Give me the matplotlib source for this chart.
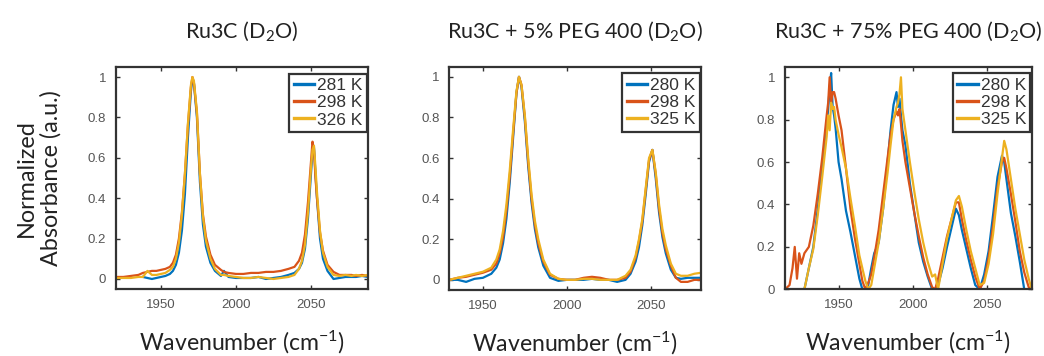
import numpy as np
import matplotlib
matplotlib.use('Agg')
import matplotlib.pyplot as plt

plt.rcParams['font.family'] = ['Lato', 'DejaVu Sans']
plt.rcParams['mathtext.default'] = 'regular'

# MATLAB default colours
colors = ['#0072BD', '#D95319', '#EDB120']

# panel 1: Ru3C (D2O)
wn1 = [1920, 1925, 1930, 1935, 1938, 1941, 1944, 1947, 1950, 1953, 1956, 1958, 1960, 1962, 1964,
       1966, 1968, 1970, 1971, 1972, 1974, 1976, 1978, 1980, 1983, 1986, 1990, 1992, 1995, 2000,
       2005, 2010, 2015, 2020, 2025, 2030, 2035, 2039, 2042, 2044, 2046, 2048, 2050, 2051, 2052,
       2053, 2054, 2056, 2058, 2061, 2065, 2069, 2073, 2077, 2080, 2084, 2088]
p1_281 = [np.nan, np.nan, np.nan, np.nan, 0.01, 0.005, 0.0, 0.005, 0.01, 0.015, 0.025, 0.04, 0.07, 0.13, 0.24,
          0.42, 0.70, 0.93, 0.99, 0.97, 0.80, 0.48, 0.27, 0.16, 0.08, 0.04, 0.015, 0.04, 0.01, 0.005,
          0.005, 0.005, 0.01, 0.0, 0.005, 0.01, 0.02, 0.03, 0.05, 0.08, 0.15, 0.30, 0.52, 0.63, 0.65,
          0.52, 0.40, 0.20, 0.10, 0.04, 0.0, 0.005, 0.01, 0.01, 0.01, 0.015, 0.01]
p1_298 = [0.01, 0.01, 0.015, 0.02, 0.03, 0.035, 0.04, 0.04, 0.045, 0.05, 0.06, 0.08, 0.12, 0.20, 0.33,
          0.52, 0.76, 0.95, 1.0, 0.97, 0.82, 0.52, 0.32, 0.21, 0.12, 0.07, 0.045, 0.035, 0.03, 0.025,
          0.025, 0.03, 0.03, 0.035, 0.035, 0.04, 0.05, 0.06, 0.09, 0.13, 0.22, 0.38, 0.58, 0.68, 0.64,
          0.50, 0.40, 0.23, 0.14, 0.07, 0.035, 0.02, 0.02, 0.02, 0.015, 0.02, 0.015]
p1_326 = [0.005, 0.005, 0.005, 0.01, 0.01, 0.04, 0.02, 0.02, 0.025, 0.03, 0.045, 0.06, 0.10, 0.18, 0.32,
          0.52, 0.77, 0.96, 1.0, 0.98, 0.83, 0.52, 0.31, 0.19, 0.10, 0.05, 0.02, 0.02, 0.015, 0.01,
          0.005, 0.005, 0.01, 0.005, 0.0, 0.005, 0.01, 0.02, 0.05, 0.09, 0.17, 0.33, 0.55, 0.64, 0.66,
          0.55, 0.43, 0.24, 0.13, 0.06, 0.02, 0.015, 0.02, 0.015, 0.02, 0.015, 0.02]

# panel 2: Ru3C + 5% PEG 400 (D2O)
wn2 = [1930, 1935, 1940, 1945, 1950, 1955, 1958, 1960, 1962, 1964, 1966, 1968, 1970, 1971.5, 1973,
       1975, 1977, 1979, 1981, 1983, 1986, 1990, 1995, 2000, 2005, 2010, 2015, 2020, 2025, 2030,
       2035, 2038, 2041, 2043, 2045, 2047, 2049, 2051, 2053, 2055, 2057, 2059, 2062, 2065, 2068,
       2072, 2076, 2080]
p2_280 = [0.0, 0.0, -0.01, 0.005, 0.01, 0.03, 0.06, 0.10, 0.18, 0.30, 0.48, 0.70, 0.92, 1.0, 0.95,
          0.78, 0.56, 0.38, 0.25, 0.16, 0.07, 0.01, -0.005, 0.0, 0.0, 0.0, 0.005, 0.0, 0.0, -0.01,
          0.0, 0.03, 0.09, 0.16, 0.27, 0.42, 0.58, 0.64, 0.50, 0.33, 0.21, 0.13, 0.05, 0.01, 0.005,
          0.01, 0.01, 0.01]
p2_298 = [0.0, 0.01, 0.015, 0.025, 0.035, 0.05, 0.08, 0.13, 0.21, 0.34, 0.51, 0.72, 0.92, 1.0, 0.96,
          0.80, 0.58, 0.40, 0.27, 0.18, 0.09, 0.025, 0.005, 0.0, 0.0, 0.01, 0.015, 0.01, 0.0, 0.0,
          0.01, 0.04, 0.11, 0.19, 0.29, 0.44, 0.59, 0.64, 0.52, 0.35, 0.23, 0.15, 0.07, 0.01, -0.01,
          -0.01, 0.0, 0.0]
p2_325 = [0.0, 0.01, 0.02, 0.03, 0.04, 0.06, 0.10, 0.15, 0.24, 0.37, 0.54, 0.74, 0.93, 1.0, 0.96,
          0.81, 0.60, 0.42, 0.29, 0.20, 0.10, 0.03, 0.005, 0.0, 0.0, 0.005, 0.005, 0.0, 0.0, 0.0,
          0.02, 0.05, 0.12, 0.20, 0.30, 0.45, 0.60, 0.64, 0.53, 0.37, 0.25, 0.17, 0.08, 0.03, 0.02,
          0.02, 0.03, 0.035]

# panel 3: Ru3C + 75% PEG 400 (D2O)
wn3 = [1914, 1917, 1919, 1920.5, 1922, 1923.5, 1925, 1927, 1930, 1933, 1936, 1939, 1942, 1943, 1944,
       1945, 1946, 1947, 1948, 1950, 1952, 1955, 1958, 1961, 1964, 1966, 1968, 1970, 1972, 1974,
       1977, 1980, 1983, 1985, 1987, 1989, 1990, 1991, 1992, 1993, 1995, 1998, 2001, 2004, 2007,
       2010, 2013, 2015, 2017, 2020, 2023, 2026, 2029, 2031, 2033, 2036, 2039, 2042, 2045, 2048,
       2051, 2054, 2057, 2060, 2061.5, 2063, 2066, 2069, 2072, 2075, 2078, 2080]
p3_280 = [0, 0, 0, 0, 0, 0, 0, 0.0, 0.10, 0.20, 0.38, 0.57, 0.78, 0.85, 0.95,
          1.02, 0.86, 0.82, 0.76, 0.60, 0.52, 0.37, 0.27, 0.16, 0.05, 0.0, 0.0, 0.02, 0.10, 0.17,
          0.22, 0.38, 0.60, 0.75, 0.87, 0.93, 0.86, 0.90, 0.82, 0.75, 0.68, 0.50, 0.36, 0.22, 0.13,
          0.06, 0.0, 0.0, 0.02, 0.10, 0.20, 0.29, 0.38, 0.35, 0.28, 0.19, 0.10, 0.02, 0.0, 0.07,
          0.18, 0.35, 0.53, 0.63, 0.60, 0.52, 0.36, 0.25, 0.13, 0.0, 0.0, 0.0]
p3_298 = [0, 0.02, 0.10, 0.20, 0.05, 0.17, 0.12, 0.17, 0.20, 0.30, 0.45, 0.62, 0.82, 0.88, 1.0,
          0.88, 0.93, 0.93, 0.90, 0.82, 0.75, 0.57, 0.38, 0.24, 0.12, 0.04, 0.0, 0.03, 0.07, 0.15,
          0.28, 0.45, 0.62, 0.73, 0.80, 0.84, 0.82, 0.85, 0.78, 0.70, 0.60, 0.48, 0.36, 0.25, 0.15,
          0.07, 0.01, 0.0, 0.05, 0.15, 0.25, 0.33, 0.41, 0.41, 0.33, 0.23, 0.14, 0.06, 0.0, 0.04,
          0.15, 0.30, 0.48, 0.60, 0.62, 0.57, 0.45, 0.32, 0.18, 0.08, 0.01, 0.0]
p3_325 = [0, 0, 0, 0, 0, 0, 0, 0.0, 0.10, 0.19, 0.35, 0.53, 0.72, 0.82, 0.75,
          0.88, 0.85, 0.86, 0.80, 0.73, 0.67, 0.57, 0.43, 0.30, 0.16, 0.10, 0.04, 0.0, 0.02, 0.10,
          0.22, 0.38, 0.55, 0.68, 0.80, 0.86, 0.88, 0.92, 1.0, 0.85, 0.75, 0.60, 0.46, 0.33, 0.22,
          0.13, 0.06, 0.07, 0.0, 0.12, 0.24, 0.33, 0.42, 0.44, 0.39, 0.28, 0.18, 0.10, 0.02, 0.03,
          0.12, 0.26, 0.45, 0.62, 0.70, 0.66, 0.52, 0.38, 0.26, 0.14, 0.05, 0.0]

titles = ['Ru3C (D$_2$O)', 'Ru3C + 5% PEG 400 (D$_2$O)', 'Ru3C + 75% PEG 400 (D$_2$O)']
labels = [['281 K', '298 K', '326 K'], ['280 K', '298 K', '325 K'], ['280 K', '298 K', '325 K']]
panels = [(wn1, [p1_281, p1_298, p1_326]),
          (wn2, [p2_280, p2_298, p2_325]),
          (wn3, [p3_280, p3_298, p3_325])]
xlims = [(1920, 2088), (1930, 2080), (1914, 2080)]
ylims = [(-0.05, 1.05), (-0.05, 1.05), (0, 1.05)]
yticks = [0, 0.2, 0.4, 0.6, 0.8, 1]
ytick_labels = ['0', '0.2', '0.4', '0.6', '0.8', '1']

fig = plt.figure(figsize=(10.44, 3.56), dpi=100)
boxes = [[0.111, 0.188, 0.2415, 0.624],
         [0.4304, 0.1854, 0.2411, 0.6273],
         [0.752, 0.1874, 0.2362, 0.6253]]

for i, (wn, series) in enumerate(panels):
    ax = fig.add_axes(boxes[i])
    for s, c, lab in zip(series, colors, labels[i]):
        ax.plot(wn, s, color=c, lw=1.6, label=lab)
    ax.set_xlim(*xlims[i])
    ax.set_ylim(*ylims[i])
    ax.set_xticks([1950, 2000, 2050])
    ax.set_yticks(yticks)
    ax.set_yticklabels(ytick_labels)
    ax.tick_params(direction='in', length=3, width=1, top=True, right=True,
                   colors='#333333', labelcolor='#555555', labelsize=9.5, pad=7)
    for lbl in ax.get_xticklabels() + ax.get_yticklabels():
        lbl.set_family(['Liberation Sans', 'DejaVu Sans'])
    for sp in ax.spines.values():
        sp.set_linewidth(1.6)
        sp.set_color('#333333')
    ax.set_title(titles[i], fontsize=15.5, pad=21, color='#222222')
    ax.set_xlabel('Wavenumber (cm$^{-1}$)', fontsize=16.6, labelpad=13, color='#222222')
    leg = ax.legend(loc='upper right', bbox_to_anchor=(0.995, 0.97), borderaxespad=0.0,
                    fancybox=False, framealpha=1, edgecolor='#333333',
                    handlelength=1.2, handletextpad=0.15, borderpad=0.25, labelspacing=0.12,
                    prop={'family': ['Liberation Sans'], 'size': 12.5})
    leg.get_frame().set_linewidth(1.6)
    for h in leg.get_lines():
        h.set_linewidth(2.4)
    for t in leg.get_texts():
        t.set_color('#333333')
    if i == 0:
        ax.set_ylabel('Normalized\nAbsorbance (a.u.)', fontsize=16.8, color='#222222')
        ax.yaxis.set_label_coords(-0.214, 0.5)

fig.savefig('out.png', dpi=100)
